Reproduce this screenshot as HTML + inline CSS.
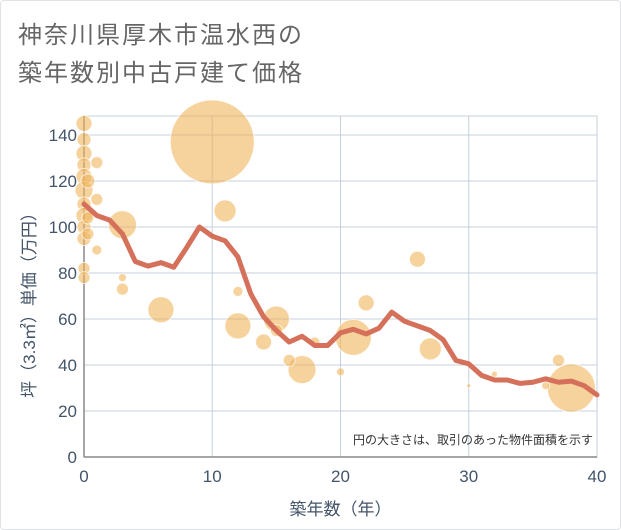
<!DOCTYPE html>
<html><head><meta charset="utf-8"><style>
body{margin:0;background:#fff;}
#wrap{position:relative;width:621px;height:530px;background:#fff;border:1px solid #dfe3e8;box-sizing:border-box;border-radius:4px;overflow:hidden;font-family:"Liberation Sans","Noto Sans CJK JP",sans-serif;}
.title{position:absolute;left:17px;font-size:24px;color:#666;letter-spacing:2px;white-space:nowrap;}
</style></head><body>
<div id="wrap">
<div class="title" style="top:14px">神奈川県厚木市温水西の</div>
<div class="title" style="top:52px">築年数別中古戸建て価格</div>
<svg id="chart" width="621" height="530" style="position:absolute;left:0;top:0"></svg>
</div>
<script>
const lineYears=[0,1,2,3,4,5,6,7,8,9,10,11,12,13,14,15,16,17,18,19,20,21,22,23,24,25,26,27,28,29,30,31,32,33,34,35,36,37,38,39,40];
const lineValues=[110,105,103,97,85,83,84.5,82.5,91,100,96,94,87,71,61,55,50,52.5,48.5,48.5,54,55.5,53.5,56,63,59,57,55,51,42,40.5,35.5,33.5,33.5,32,32.5,34,32.5,33,31,27];
const bubbleX=[10,3,6,11,12,15,17,21,22,26,27,38,37,14,16,15,12,3,3,1,1,1,20,30,32,18,36,0,0,0,0,0,0,0,0,0,0,0,0,0.3,0.3,0.3];
const bubbleY=[137,101,64,107,57,60,38,52,67,86,47,30,42,50,42,55,72,78,73,90,112,128,37,31,36,50,31,145,138,132,127,122,116,110,105,100,95,82,78,120,104,97];
const bubbleArea=[1760,196,169,121,169,169,196,324,64,64,121,576,36,64,36,36,25,16,36,25,36,36,16,4,9,25,16,64,49,64,49,64,81,49,64,49,49,36,36,49,36,36];
const xTicks=[0,10,20,30,40];
const yTicks=[0,20,40,60,80,100,120,140];
const X0=83,X1=596,Y0=456,Y1=115;
const xs=v=>X0+(X1-X0)*v/40;
const ys=v=>Y0-v*2.3;
const svg=document.getElementById('chart');
const NS='http://www.w3.org/2000/svg';
function mk(t,a){const e=document.createElementNS(NS,t);for(const k in a)e.setAttribute(k,a[k]);svg.appendChild(e);return e;}
for(const t of xTicks){const l=mk('line',{x1:xs(t),x2:xs(t),y1:Y1,y2:Y0,stroke:'#c5d0dc','stroke-width':1});


const tx=mk('text',{x:xs(t),y:Y0+25,'text-anchor':'middle','font-size':17,fill:'#44556a'});tx.textContent=t;

}
for(const t of yTicks){const l=mk('line',{x1:X0,x2:X1,y1:ys(t),y2:ys(t),stroke:'#c5d0dc','stroke-width':1});


const tx=mk('text',{x:X0-7,y:ys(t)+6,'text-anchor':'end','font-size':17,fill:'#44556a'});tx.textContent=t;

}
const fr=mk('rect',{x:X0,y:Y1,width:X1-X0,height:Y0-Y1,fill:'none',stroke:'#c5d0dc'});


const ax=mk('line',{x1:X0,x2:X0,y1:Y1,y2:Y0,stroke:'#888','stroke-width':1.5});


const ax2=mk('line',{x1:X0,x2:X1,y1:Y0,y2:Y0,stroke:'#888','stroke-width':1.5});


bubbleX.forEach((v,i)=>{const c=mk('circle',{cx:xs(v),cy:ys(bubbleY[i]),r:Math.sqrt(bubbleArea[i]),fill:'rgba(240,180,90,0.6)',stroke:'rgba(255,255,255,0.7)','stroke-width':1});

});
const p=mk('polyline',{points:lineYears.map((v,i)=>xs(v)+','+ys(lineValues[i])).join(' '),fill:'none',stroke:'#d5705a','stroke-width':5,'stroke-linejoin':'round','stroke-linecap':'round'});


const note=mk('text',{x:592,y:443,'text-anchor':'end','font-size':12,fill:'#333'});note.textContent='円の大きさは、取引のあった物件面積を示す';


const xt=mk('text',{x:(X0+X1)/2,y:514,'text-anchor':'middle','font-size':17,fill:'#44556a'});xt.textContent='築年数（年）';


const yt=mk('text',{x:0,y:0,'text-anchor':'middle','font-size':17,fill:'#44556a',transform:'translate(34,300) rotate(-90)'});yt.textContent='坪（3.3㎡）単価（万円）';


</script>
</body></html>
